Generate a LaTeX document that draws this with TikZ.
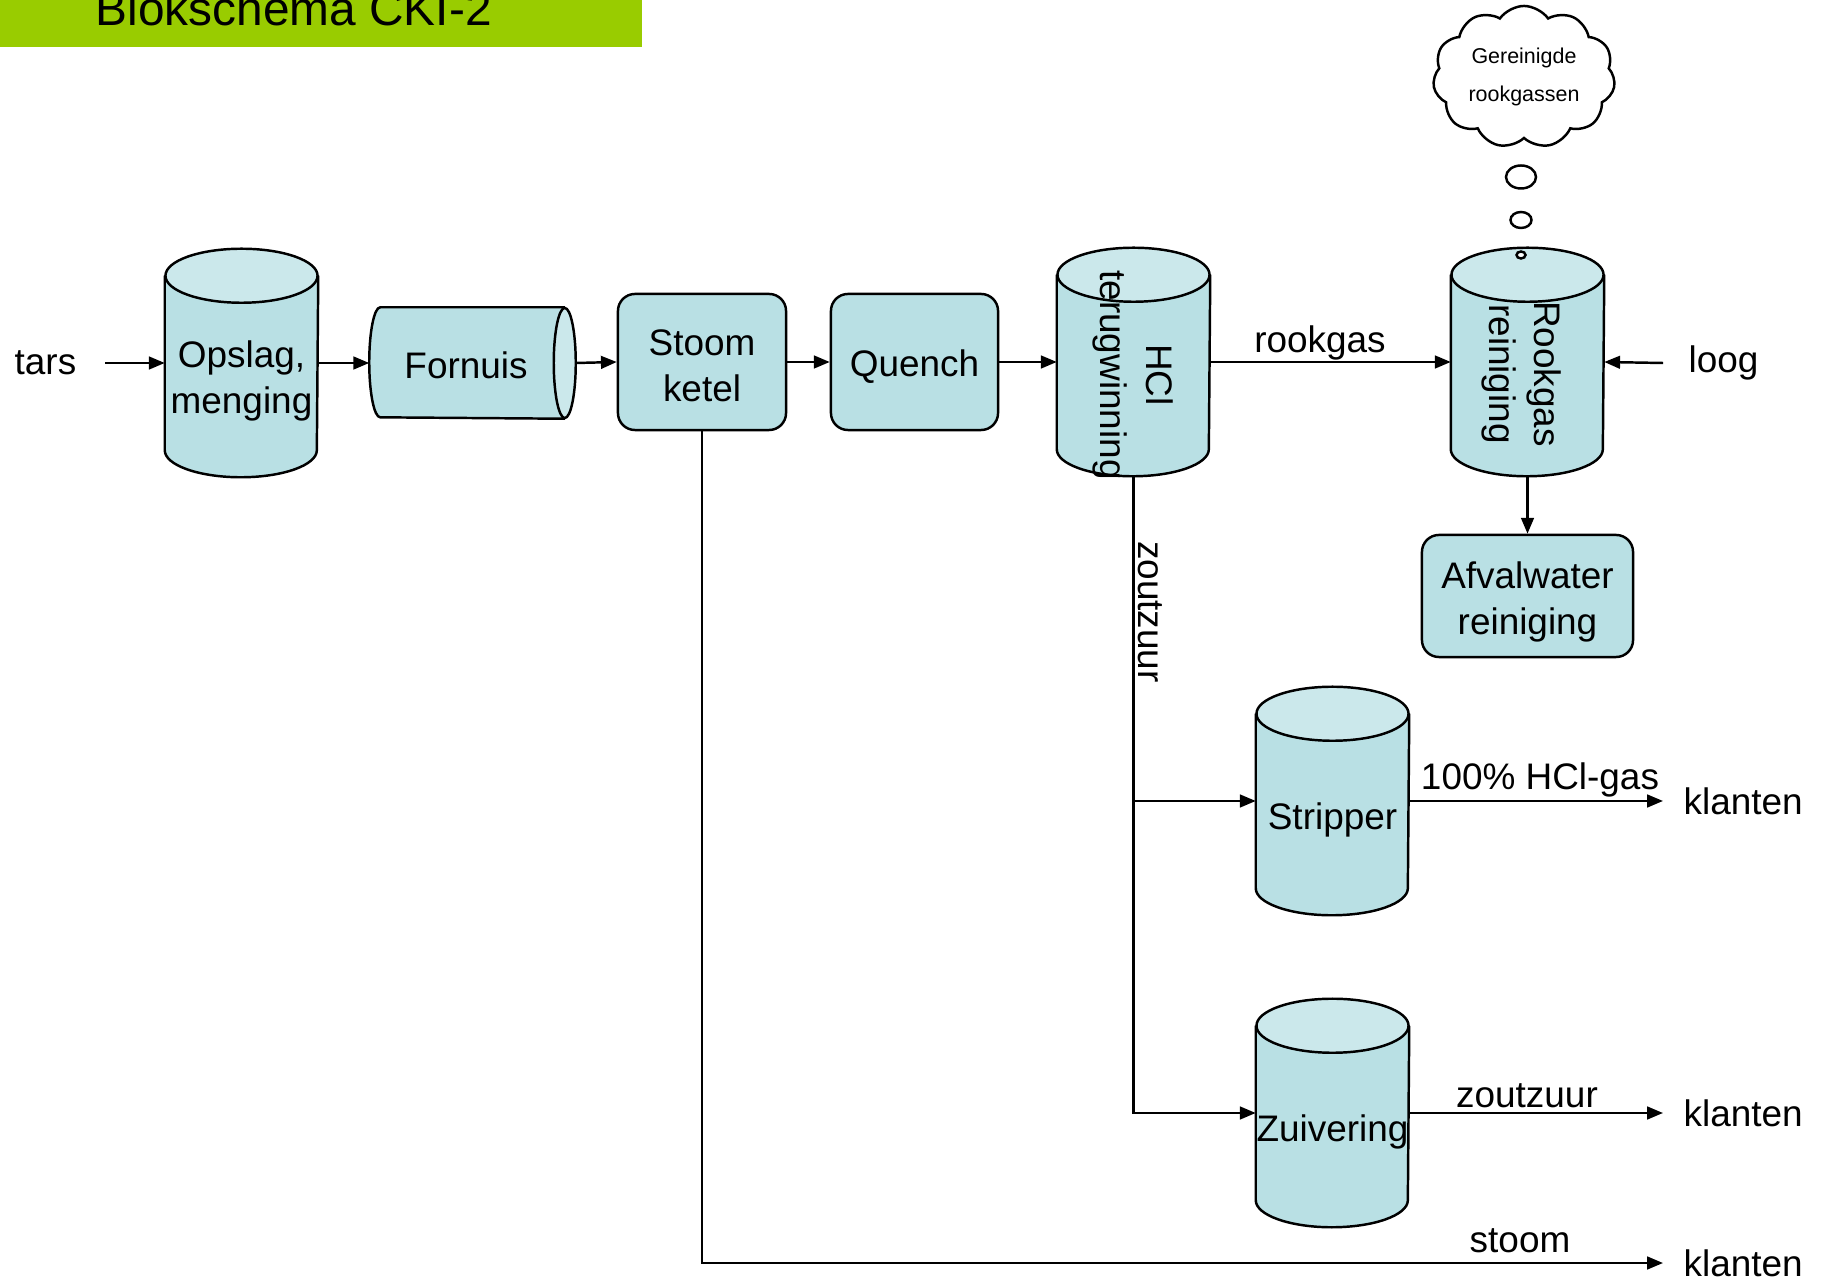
\documentclass[tikz,border=0pt]{standalone}
\usepackage{fontspec}
\setmainfont{Liberation Sans}
\usetikzlibrary{shapes.geometric,shapes.symbols,arrows.meta,calc}
\definecolor{canbody}{RGB}{185,224,228}
\definecolor{cantop}{RGB}{203,232,235}
\definecolor{titlegreen}{RGB}{153,204,0}
\newcommand{\canr}{0.76cm}
\newcommand{\capr}{0.27cm}

\begin{document}
\begin{tikzpicture}[x=0.01cm,y=-0.01cm,
    every node/.style={font=\fontsize{10.5}{13}\selectfont},
    canbox/.style={rectangle,minimum width=1.52cm,minimum height=2.27cm,inner sep=0pt},
    box/.style={rectangle,rounded corners=0.17cm,draw,line width=0.7pt,fill=canbody,align=center},
    arr/.style={-{Triangle[length=4.5pt,width=3.6pt]},line width=0.7pt},
    lbl/.style={anchor=base,inner sep=0pt},
    side/.style={rotate=-90,align=center,inner sep=0pt}]
    \useasboundingbox (0,0) rectangle (1824,1283);
    \fill[titlegreen] (0,0) rectangle (642,47);
    \node[anchor=base west,inner sep=0pt,font=\fontsize{13.6}{16}\selectfont] (title) at (95,26) {Blokschema CKI-2};

    \coordinate (tin) at (105,363);
    \coordinate (lin) at (1663,363);
    \coordinate (k1) at (1663,801);
    \coordinate (k2) at (1663,1113);
    \coordinate (k3) at (1663,1263);

    \foreach \n/\x/\y in {opslag/241.5/363,hcl/1133.5/362,rook/1527.5/362,strip/1332.5/801,zuiv/1332.5/1113}{
    \node[canbox] (\n) at (\x,\y) {};
    \filldraw[fill=canbody,line width=0.7pt] ([yshift=-\capr]\n.north west) -- ([yshift=\capr]\n.south west)
      arc[start angle=180,end angle=360,x radius=\canr,y radius=\capr] -- ([yshift=-\capr]\n.north east);
    \filldraw[fill=cantop,line width=0.7pt] ([yshift=-\capr]\n.north) ellipse [x radius=\canr,y radius=\capr];
    }
    \node[rectangle,minimum width=2.05cm,minimum height=1.1cm,inner sep=0pt] (fornuis) at (472.5,363) {};
    \filldraw[fill=canbody,line width=0.7pt] ([xshift=-0.11cm]fornuis.north east) -- ([xshift=0.11cm]fornuis.north west)
      arc[start angle=90,end angle=270,x radius=0.11cm,y radius=0.55cm] -- ([xshift=-0.11cm]fornuis.south east);
    \filldraw[fill=cantop,line width=0.7pt] ([xshift=-0.11cm]fornuis.east) ellipse [x radius=0.11cm,y radius=0.55cm];

    \node[align=center] (opslagtxt) at (241.5,381) {Opslag,\\menging};
    \node (fornuistxt) at (466,365) {Fornuis};
    \node[side] (hcltxt) at (1133,375) {HCl\\terugwinning};
    \node[side] (rooktxt) at (1521.5,374) {Rookgas\\reiniging};
    \node (striptxt) at (1332.5,820) {Stripper};
    \node (zuivtxt) at (1332.5,1132) {Zuivering};

    \node[box,minimum width=1.68cm,minimum height=1.36cm] (stoom) at (702,362) {\rule{0pt}{9.4pt}Stoom\\ketel};
    \node[box,minimum width=1.67cm,minimum height=1.36cm] (quench) at (914.5,362) {\rule{0pt}{10pt}Quench};
    \node[box,minimum width=2.11cm,minimum height=1.22cm] (afval) at (1527.5,596) {\rule{0pt}{11pt}Afvalwater\\reiniging};

    \node[cloud,cloud puffs=11,cloud puff arc=110,aspect=1.35,draw,fill=white,line width=0.7pt,
      minimum width=1.82cm,minimum height=1.42cm,inner sep=0pt,align=center,
      font=\fontsize{6.1}{10.6}\selectfont] (wolk) at (1524,77) {Gereinigde\\rookgassen};
    \foreach \n/\y/\a/\b in {b1/177/0.3/0.23,b2/220/0.21/0.16,b3/255/0.09/0.07}{
    \node[ellipse,draw,fill=white,line width=0.7pt,inner sep=0pt,minimum width=\a cm,minimum height=\b cm] (\n) at (1521,\y) {};
    }

    \draw[arr] (tin) -- (opslag.west);
    \draw[arr] (opslag.east) -- (fornuis.west);
    \draw[arr] (fornuis.east) -- (stoom.west);
    \draw[arr] (stoom) -- (quench);
    \draw[arr] (quench.east) -- (hcl.west);
    \draw[arr] (hcl.east) -- (rook.west);
    \draw[arr] (lin) -- (rook.east);
    \draw[arr] (rook.south) -- (afval.north);
    \draw[arr] (hcl.south) |- (zuiv.west);
    \draw[arr] (hcl.south |- strip.west) -- (strip.west);
    \draw[arr] (strip.east) -- (k1);
    \draw[arr] (zuiv.east) -- (k2);
    \draw[arr] (stoom.south) |- (k3);

    \node[anchor=west,inner sep=0pt] (tars) at (14,363) {tars};
    \node[anchor=west,inner sep=0pt] (loog) at (1688,363) {loog};
    \node[lbl] (lrook) at (1320,353) {rookgas};
    \node[rotate=-90,inner sep=0pt] (lzout) at (1150,612) {zoutzuur};
    \node[lbl] (lhcl) at (1540,790) {100\% HCl-gas};
    \node[lbl] (lzout2) at (1527,1107) {zoutzuur};
    \node[lbl] (lstoom) at (1520,1252) {stoom};
    \foreach \k in {1,2,3}{
    \node[anchor=west,inner sep=0pt] (kl\k) at ($(k\k)+(20,0)$) {klanten};
    }
\end{tikzpicture}
\end{document}
